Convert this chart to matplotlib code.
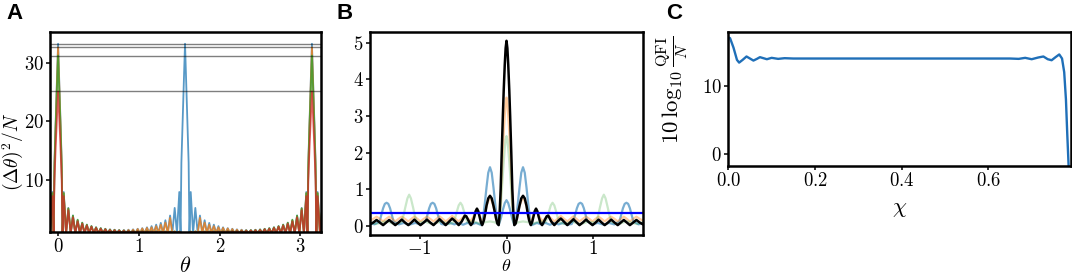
import numpy as np
import matplotlib
matplotlib.use("Agg")
import matplotlib.pyplot as plt

plt.rcParams["font.family"] = "serif"
plt.rcParams["font.serif"] = ["cmr10"]
plt.rcParams["mathtext.fontset"] = "cm"
plt.rcParams["axes.formatter.use_mathtext"] = True
plt.rcParams["axes.unicode_minus"] = True

# ---------------- panel A: (dtheta)^2/N versus theta, half range 0..pi/2 ----------------
# grid: main peak shoulders, then alternating side peaks / floors, then the pi/2 shoulders
a_theta_half = [0.000, 0.012, 0.030, 0.045, 0.055,
                0.070, 0.099, 0.127, 0.156, 0.184, 0.213, 0.242, 0.270, 0.299, 0.327,
                0.356, 0.384, 0.413, 0.442, 0.470, 0.499, 0.528, 0.556, 0.585, 0.613,
                0.642, 0.670, 0.699, 0.728, 0.756, 0.785, 0.814, 0.842, 0.871, 0.899,
                0.928, 0.956, 0.985, 1.014, 1.042, 1.071, 1.100, 1.128, 1.157, 1.185,
                1.214, 1.242, 1.271, 1.300, 1.328, 1.357, 1.386, 1.414, 1.443, 1.471,
                1.500, 1.516, 1.526, 1.541, 1.559, 1.571]
a_floor = 1.0

a_blue_main = [33.2, 28.0, 20.0, 13.0, 1.0]
a_blue_peaks = [8.0, 5.3, 4.0, 3.2, 2.75, 2.45, 2.2, 2.0, 1.85, 1.75, 1.65, 1.6, 1.55,
                1.55, 1.6, 1.65, 1.75, 1.85, 2.0, 2.2, 2.45, 2.75, 3.2, 4.0, 5.3, 8.0]
a_blue_end = [1.0, 13.0, 20.0, 28.0, 33.2]

a_orange_main = [32.6, 27.5, 19.5, 12.5, 1.0]
a_orange_peaks = [7.8, 5.2, 3.9, 3.2, 2.7, 2.4, 2.15, 1.95, 1.8, 1.7, 1.6, 1.55, 1.5,
                  1.5, 1.55, 1.6, 1.7, 1.8, 1.9, 2.0, 2.2, 2.45, 2.8, 3.6, 1.3, 1.1]
a_orange_end = [1.0, 1.0, 1.0, 1.0, 1.0]

a_green_main = [31.2, 26.5, 19.0, 12.0, 1.0]
a_green_peaks = [7.8, 5.2, 4.0, 3.3, 2.8, 2.45, 2.2, 2.0, 1.85, 1.72, 1.62, 1.55, 1.5,
                 1.45, 1.42, 1.4, 1.38, 1.36, 1.35, 1.34, 1.33, 1.32, 1.3, 1.3, 1.3, 1.3]
a_green_end = [1.0, 1.0, 1.0, 1.0, 1.0]

a_red_main = [25.1, 21.5, 15.5, 10.0, 1.0]
a_red_peaks = [7.3, 4.9, 3.7, 3.0, 2.6, 2.3, 2.1, 1.9, 1.75, 1.65, 1.55, 1.5, 1.45,
               1.4, 1.38, 1.36, 1.34, 1.32, 1.3, 1.3, 1.28, 1.27, 1.26, 1.25, 1.25, 1.25]
a_red_end = [1.0, 1.0, 1.0, 1.0, 1.0]

a_hlines = [33.2, 32.6, 31.2, 25.1]

# ---------------- panel B: zoom around theta = 0 (half, theta >= 0) ----------------
b_black_x = [0.0, 0.01, 0.02, 0.032, 0.042, 0.055, 0.067, 0.08, 0.09, 0.105, 0.12, 0.135,
             0.15, 0.17, 0.19, 0.21, 0.23, 0.245, 0.26, 0.28, 0.295, 0.31, 0.325, 0.34,
             0.355, 0.37, 0.39, 0.41, 0.428, 0.445, 0.462, 0.48, 0.515, 0.55, 0.588,
             0.625, 0.663, 0.70, 0.735, 0.77, 0.805, 0.84, 0.878, 0.915, 0.953, 0.99,
             1.025, 1.06, 1.095, 1.13, 1.168, 1.205, 1.243, 1.28, 1.315, 1.35, 1.385,
             1.42, 1.458, 1.495, 1.533, 1.571]
b_black_y = [5.05, 4.85, 4.4, 3.7, 3.0, 2.0, 1.0, 0.3, 0.02, 0.06, 0.2, 0.38,
             0.55, 0.75, 0.82, 0.75, 0.55, 0.33, 0.15, 0.02, 0.1, 0.25, 0.4, 0.47,
             0.4, 0.25, 0.08, 0.02, 0.1, 0.18, 0.26, 0.28, 0.12, 0.02, 0.12,
             0.2, 0.11, 0.02, 0.1, 0.18, 0.1, 0.02, 0.09, 0.17, 0.09, 0.02,
             0.09, 0.17, 0.09, 0.02, 0.09, 0.17, 0.09, 0.02, 0.09, 0.16, 0.09,
             0.02, 0.09, 0.16, 0.09, 0.04]

b_orange_x = [0.0, 0.01, 0.02, 0.032, 0.042, 0.055, 0.067, 0.08, 0.09, 0.12, 0.15, 0.19,
              0.23, 0.26, 0.28, 0.31, 0.34, 0.37, 0.41, 0.445, 0.48, 0.515, 0.55, 0.588,
              0.625, 0.663, 0.70, 0.735, 0.77, 0.805, 0.84, 0.878, 0.915, 0.953, 0.99,
              1.025, 1.06, 1.095, 1.13, 1.168, 1.205, 1.243, 1.28, 1.315, 1.35, 1.385,
              1.42, 1.458, 1.495, 1.533, 1.571]
b_orange_y = [3.5, 3.35, 3.0, 2.55, 2.1, 1.4, 0.7, 0.2, 0.03, 0.2, 0.55, 0.8,
              0.55, 0.2, 0.1, 0.3, 0.45, 0.3, 0.13, 0.2, 0.28, 0.2, 0.12, 0.19,
              0.27, 0.19, 0.12, 0.19, 0.26, 0.19, 0.12, 0.19, 0.25, 0.19, 0.12,
              0.19, 0.25, 0.19, 0.12, 0.19, 0.25, 0.19, 0.12, 0.19, 0.25, 0.19,
              0.12, 0.19, 0.25, 0.19, 0.14]

b_green_x = [0.0, 0.01, 0.02, 0.032, 0.042, 0.055, 0.067, 0.08, 0.09, 0.14, 0.19, 0.245,
             0.30, 0.35, 0.40, 0.45, 0.47, 0.49, 0.51, 0.53, 0.55, 0.57, 0.59, 0.61,
             0.66, 0.70, 0.75, 0.80, 0.85, 0.90, 0.94, 0.98, 1.03, 1.055, 1.075, 1.10,
             1.12, 1.14, 1.165, 1.185, 1.21, 1.26, 1.30, 1.35, 1.40, 1.45, 1.50, 1.571]
b_green_y = [2.45, 2.35, 2.1, 1.75, 1.4, 0.95, 0.5, 0.15, 0.05, 0.1, 0.12, 0.1,
             0.05, 0.1, 0.12, 0.1, 0.22, 0.4, 0.56, 0.63, 0.56, 0.4, 0.22, 0.1,
             0.05, 0.08, 0.12, 0.08, 0.05, 0.08, 0.12, 0.1, 0.1, 0.28, 0.5, 0.75,
             0.85, 0.75, 0.5, 0.28, 0.1, 0.06, 0.05, 0.1, 0.12, 0.08, 0.05, 0.1]

b_blue_x = [0.0, 0.02, 0.04, 0.065, 0.09, 0.11, 0.13, 0.15, 0.17, 0.19, 0.21, 0.23, 0.25,
            0.27, 0.29, 0.35, 0.40, 0.45, 0.50, 0.55, 0.60, 0.65, 0.70, 0.75, 0.77,
            0.79, 0.81, 0.83, 0.85, 0.87, 0.89, 0.91, 0.93, 0.99, 1.05, 1.12, 1.18,
            1.24, 1.30, 1.32, 1.34, 1.36, 1.38, 1.40, 1.42, 1.44, 1.46, 1.52, 1.571]
b_blue_y = [0.7, 0.62, 0.45, 0.2, 0.02, 0.2, 0.6, 1.05, 1.45, 1.6, 1.45, 1.05, 0.6,
            0.2, 0.02, 0.08, 0.04, 0.08, 0.03, 0.08, 0.04, 0.08, 0.03, 0.05, 0.15,
            0.3, 0.48, 0.6, 0.63, 0.6, 0.48, 0.3, 0.12, 0.04, 0.08, 0.03, 0.08,
            0.04, 0.12, 0.3, 0.48, 0.6, 0.63, 0.6, 0.48, 0.3, 0.12, 0.04, 0.08]

b_level = 0.34

# ---------------- panel C: 10 log10 QFI/N versus chi ----------------
c_chi = [0.0, 0.004, 0.012, 0.02, 0.025, 0.033, 0.042, 0.05, 0.058, 0.066, 0.073, 0.081,
         0.089, 0.10, 0.115, 0.13, 0.15, 0.20, 0.30, 0.40, 0.50, 0.60, 0.65, 0.67, 0.685,
         0.70, 0.715, 0.727, 0.737, 0.746, 0.755, 0.7636, 0.770, 0.775, 0.779, 0.782, 0.786]
c_qfi = [17.1, 17.0, 15.6, 13.8, 13.4, 13.8, 14.3, 14.0, 13.7, 13.95, 14.2, 14.05,
         13.9, 14.1, 13.95, 14.05, 14.0, 14.0, 14.0, 14.0, 14.0, 14.0, 14.0, 13.95, 14.1,
         13.9, 14.15, 14.3, 13.9, 13.75, 14.2, 14.6, 14.0, 12.0, 8.0, 3.0, -3.0]


def mirror_about(xs, ys, centre):
    xs = np.asarray(xs)
    ys = np.asarray(ys)
    x_full = np.concatenate([2 * centre - xs[:0:-1], xs])
    y_full = np.concatenate([ys[:0:-1], ys])
    return x_full, y_full


def zigzag(main, peaks, end):
    vals = list(main)
    for i, p in enumerate(peaks):
        vals.append(p)
        if i < len(peaks) - 1:
            vals.append(a_floor)
    return vals + list(end)


fig = plt.figure(figsize=(10.72, 2.75), dpi=100)
W, H = 1072, 275


def px_axes(l, t, r, b):
    return fig.add_axes([l / W, 1 - b / H, (r - l) / W, (b - t) / H])


axA = px_axes(50, 32, 320.7, 232)
axB = px_axes(370, 32, 643, 235)
axC = px_axes(728.3, 32, 1070.7, 166)

# panel A
th_half = np.array(a_theta_half)
series = [
    ("C0", a_blue_main, a_blue_peaks, a_blue_end),
    ("C1", a_orange_main, a_orange_peaks, a_orange_end),
    ("C2", a_green_main, a_green_peaks, a_green_end),
    ("C3", a_red_main, a_red_peaks, a_red_end),
]
for col, main, peaks, end in series:
    y_half = np.array(zigzag(main, peaks, end))
    # first half is symmetric about 0, whole curve symmetric about pi/2
    x1, y1 = mirror_about(th_half, y_half, 0.0)
    x2, y2 = mirror_about(x1[::-1], y1[::-1], np.pi / 2)
    order = np.argsort(x2)
    axA.plot(x2[order], y2[order], color=col, lw=1.3, alpha=0.75)
for h in a_hlines:
    axA.axhline(h, color="k", lw=1.0, alpha=0.5)
axA.set_xlim(-0.1, 3.25)
axA.set_ylim(1.2, 35.2)
axA.set_yticks([10, 20, 30])
axA.set_xticks([0, 1, 2, 3])
axA.set_ylabel(r"$(\Delta\tilde{\theta})^2/N$", fontsize=14)
axA.yaxis.set_label_coords(-0.094, 0.40)
axA.set_xlabel(r"$\theta$", fontsize=16)
axA.xaxis.set_label_coords(0.5, -0.12)

# panel B
for xs, ys, col, alpha, lw in [
    (b_blue_x, b_blue_y, "C0", 0.6, 1.6),
    (b_orange_x, b_orange_y, "C1", 0.4, 1.6),
    (b_green_x, b_green_y, "C2", 0.25, 1.6),
    (b_black_x, b_black_y, "k", 1.0, 1.8),
]:
    xf, yf = mirror_about(xs, ys, 0.0)
    axB.plot(xf, yf, color=col, alpha=alpha, lw=lw, solid_joinstyle="round")
axB.axhline(b_level, color="b", lw=1.6)
axB.set_xlim(-np.pi / 2, np.pi / 2)
axB.set_ylim(-0.25, 5.29)
axB.set_yticks([0, 1, 2, 3, 4, 5])
axB.set_xticks([-1, 0, 1])
axB.set_xlabel(r"$\theta$", fontsize=13)
axB.xaxis.set_label_coords(0.5, -0.114)

# panel C
axC.plot(c_chi, c_qfi, color="#1f6fb8", lw=1.7)
axC.set_xlim(0, 0.79)
axC.set_ylim(-1.8, 17.9)
axC.set_yticks([0, 10])
axC.set_xticks([0.0, 0.2, 0.4, 0.6])
axC.set_xlabel(r"$\chi$", fontsize=16)
axC.xaxis.set_label_coords(0.5, -0.25)
axC.set_ylabel(r"$10\,\log_{10}\frac{\mathrm{QFI}}{N}$", fontsize=16.5)
axC.yaxis.set_label_coords(-0.112, 0.57)

for ax in (axA, axB, axC):
    for s in ax.spines.values():
        s.set_linewidth(1.8)
    ax.tick_params(direction="out", length=3, width=1.1, labelsize=13.5, pad=1.5)
axB.tick_params(axis="x", pad=0.5)

for lab, x in [("A", 6), ("B", 337), ("C", 666)]:
    fig.text(x / W, 1 - 3 / H, lab, fontsize=16, fontweight="bold",
             family="Liberation Sans", ha="left", va="top")

fig.savefig("out.png", dpi=100)
